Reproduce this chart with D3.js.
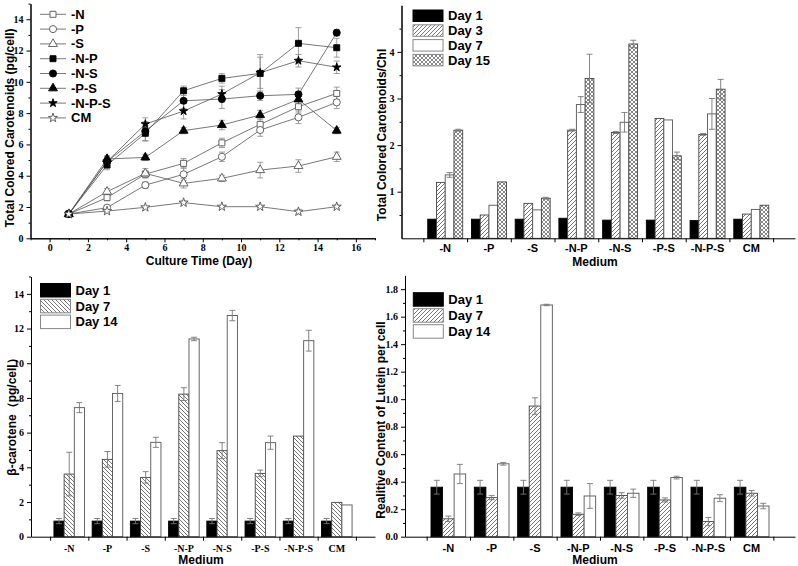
<!DOCTYPE html>
<html>
<head>
<meta charset="utf-8">
<script src="https://d3js.org/d3.v7.min.js"></script>
<style>
  body { margin: 0; background: #fff; }
  .tick-lbl { font-family: "Liberation Serif", serif; font-weight: bold; font-size: 10px; fill: #000; }
  .title { font-family: "Liberation Sans", Arial, sans-serif; font-weight: bold; font-size: 12px; fill: #000; }
  .lgd { font-family: "Liberation Sans", Arial, sans-serif; font-weight: bold; font-size: 13px; fill: #000; }
  .cat { font-family: "Liberation Sans", Arial, sans-serif; font-weight: bold; font-size: 11px; fill: #000; }
</style>
</head>
<body>
<svg id="fig" width="798" height="566"></svg>
<script>
// ---- data: growth curve (top left) ----
const days = [1, 3, 5, 7, 9, 11, 13, 15];
const lineNames = ["-N", "-P", "-S", "-N-P", "-N-S", "-P-S", "-N-P-S", "CM"];
const valN   = [1.55, 2.60, 4.10, 4.79, 6.10, 7.28, 8.41, 9.26];
const valP   = [1.55, 1.96, 3.40, 4.09, 5.21, 6.92, 7.73, 8.69];
const valS   = [1.55, 2.98, 4.15, 3.51, 3.83, 4.36, 4.62, 5.21];
const valNP  = [1.55, 4.68, 6.71, 9.43, 10.22, 10.54, 12.46, 12.18];
const valNS  = [1.55, 4.90, 6.85, 8.79, 8.90, 9.11, 9.20, 13.14];
const valPS  = [1.55, 5.07, 5.17, 6.88, 7.24, 7.88, 8.88, 6.88];
const valNPS = [1.55, 4.90, 7.30, 8.13, 9.22, 10.58, 11.35, 10.93];
const valCM  = [1.55, 1.74, 1.98, 2.28, 2.02, 2.02, 1.70, 2.02];
const errN   = [0.1, 0.2, 0.2, 0.3, 0.3, 0.4, 0.4, 0.4];
const errP   = [0.1, 0.15, 0.2, 0.4, 0.3, 0.4, 0.4, 0.4];
const errS   = [0.1, 0.2, 0.3, 0.3, 0.2, 0.5, 0.4, 0.3];
const errNP  = [0.1, 0.3, 0.5, 0.3, 0.3, 1.2, 1.0, 0.6];
const errNS  = [0.1, 0.3, 0.6, 0.5, 0.6, 0.3, 0.4, 0.2];
const errPS  = [0.1, 0.2, 0.2, 0.2, 0.3, 0.3, 0.5, 0.2];
const errNPS = [0.1, 0.3, 0.4, 0.5, 0.5, 1.0, 0.4, 0.4];
const errCM  = [0.05, 0.1, 0.05, 0.1, 0.05, 0.05, 0.15, 0.1];

// ---- data: bar charts ----
const media = ["-N", "-P", "-S", "-N-P", "-N-S", "-P-S", "-N-P-S", "CM"];

// carotenoids / Chl (top right)
const chlDays = ["Day 1", "Day 3", "Day 7", "Day 15"];
const chlD1  = [0.41, 0.41, 0.41, 0.43, 0.39, 0.39, 0.38, 0.41];
const chlD3  = [1.20, 0.50, 0.75, 2.32, 2.27, 2.57, 2.23, 0.52];
const chlD7  = [1.36, 0.71, 0.61, 2.87, 2.49, 2.54, 2.67, 0.62];
const chlD15 = [2.32, 1.21, 0.86, 3.43, 4.17, 1.77, 3.20, 0.71];
const chlE1  = [0, 0, 0, 0, 0, 0, 0, 0];
const chlE3  = [0, 0, 0, 0.02, 0.02, 0, 0.02, 0];
const chlE7  = [0.05, 0, 0, 0.17, 0.21, 0, 0.33, 0];
const chlE15 = [0.02, 0, 0.02, 0.52, 0.08, 0.08, 0.21, 0];

// beta-carotene (bottom left)
const betaDays = ["Day 1", "Day 7", "Day 14"];
const betaD1  = [0.9, 0.9, 0.9, 0.9, 0.9, 0.9, 0.9, 0.9];
const betaD7  = [3.61, 4.46, 3.42, 8.22, 4.96, 3.65, 5.80, 1.98];
const betaD14 = [7.44, 8.26, 5.44, 11.40, 12.75, 5.42, 11.30, 1.83];
const betaE1  = [0.15, 0.15, 0.15, 0.15, 0.15, 0.15, 0.15, 0.15];
const betaE7  = [1.26, 0.45, 0.33, 0.37, 0.46, 0.19, 0, 0];
const betaE14 = [0.29, 0.46, 0.29, 0.1, 0.3, 0.38, 0.6, 0];

// lutein (bottom right)
const lutDays = ["Day 1", "Day 7", "Day 14"];
const lutD1  = [0.36, 0.36, 0.36, 0.36, 0.36, 0.36, 0.36, 0.36];
const lutD7  = [0.13, 0.284, 0.95, 0.163, 0.30, 0.267, 0.11, 0.316];
const lutD14 = [0.456, 0.53, 1.685, 0.296, 0.316, 0.43, 0.28, 0.223];
const lutE1  = [0.05, 0.05, 0.05, 0.05, 0.05, 0.05, 0.05, 0.05];
const lutE7  = [0.02, 0.015, 0.06, 0.01, 0.02, 0.015, 0.03, 0.02];
const lutE14 = [0.07, 0.01, 0.005, 0.09, 0.03, 0.01, 0.025, 0.02];

const svg = d3.select("#fig");
const defs = svg.append("defs");

// hatch patterns
function hatch(id, dir) {
  const p = defs.append("pattern").attr("id", id)
    .attr("patternUnits", "userSpaceOnUse").attr("width", 4).attr("height", 4);
  p.append("rect").attr("width", 4).attr("height", 4).attr("fill", "#fff");
  const paths = dir === "f" ? ["M0,4 L4,0", "M-1,1 L1,-1", "M3,5 L5,3"]
              : dir === "b" ? ["M0,0 L4,4", "M-1,3 L1,5", "M3,-1 L5,1"]
              : ["M0,4 L4,0", "M-1,1 L1,-1", "M3,5 L5,3", "M0,0 L4,4", "M-1,3 L1,5", "M3,-1 L5,1"];
  paths.forEach(d => p.append("path").attr("d", d).attr("stroke", "#555").attr("stroke-width", dir === "x" ? 0.7 : 0.8));
}
hatch("hf", "f");
hatch("hb", "b");
hatch("hx", "x");

const styles = {
  black: { fill: "#000", stroke: "#000" },
  fwd:   { fill: "url(#hf)", stroke: "#444" },
  back:  { fill: "url(#hb)", stroke: "#444" },
  white: { fill: "#fff", stroke: "#555" },
  cross: { fill: "url(#hx)", stroke: "#444" }
};

// ---------- panel 1: line chart ----------
(function () {
  const x = d3.scaleLinear().domain([-1, 17]).range([30.5, 375]);
  const y = d3.scaleLinear().domain([0, 15]).range([238.3, 3.6]);
  const g = svg.append("g");

  g.append("g").attr("transform", "translate(0,238.3)")
    .call(d3.axisBottom(x).tickValues(d3.range(0, 17, 2)).tickSize(4).tickSizeOuter(0).tickFormat(d3.format("d")))
    .call(a => a.selectAll("text").attr("class", "tick-lbl").attr("dy", "0.8em").attr("y", 5));
  g.append("g").attr("transform", "translate(0,238.3)")
    .call(d3.axisBottom(x).tickValues(d3.range(-1, 18, 2)).tickSize(2).tickSizeOuter(0).tickFormat(""));
  g.append("g").attr("transform", "translate(30.5,0)")
    .call(d3.axisLeft(y).tickValues(d3.range(0, 15, 2)).tickSize(4).tickSizeOuter(0))
    .call(a => a.selectAll("text").attr("class", "tick-lbl").attr("x", -7));
  g.append("g").attr("transform", "translate(30.5,0)")
    .call(d3.axisLeft(y).tickValues(d3.range(1, 16, 2)).tickSize(2).tickSizeOuter(0).tickFormat(""));
  g.selectAll(".domain, .tick line").attr("stroke", "#000");

  g.append("text").attr("class", "title").attr("x", 199).attr("y", 265).attr("text-anchor", "middle")
    .attr("font-size", 11).text("Culture Time (Day)");
  g.append("text").attr("class", "title").attr("transform", "translate(14,128) rotate(-90)")
    .attr("text-anchor", "middle").text("Total Colored Carotenoids (pg/cell)");

  const vals = [valN, valP, valS, valNP, valNS, valPS, valNPS, valCM];
  const errs = [errN, errP, errS, errNP, errNS, errPS, errNPS, errCM];
  const shapes = [d3.symbolSquare, d3.symbolCircle, d3.symbolTriangle, d3.symbolSquare,
                  d3.symbolCircle, d3.symbolTriangle, d3.symbolStar, d3.symbolStar];
  const filled = [false, false, false, true, true, true, true, false];
  const sizes = [36, 40, 34, 36, 40, 34, 22, 26];
  const line = d3.line().x((d, i) => x(days[i])).y(d => y(d));

  vals.forEach(v => {
    g.append("path").attr("d", line(v)).attr("fill", "none").attr("stroke", "#555").attr("stroke-width", 0.8);
  });
  vals.forEach((v, k) => {
    const e = errs[k];
    v.forEach((d, i) => {
      const cx = x(days[i]);
      g.append("path")
        .attr("d", `M${cx},${y(d - e[i])}V${y(d + e[i])}M${cx - 3},${y(d - e[i])}H${cx + 3}M${cx - 3},${y(d + e[i])}H${cx + 3}`)
        .attr("stroke", "#888").attr("stroke-width", 0.8).attr("fill", "none");
    });
  });
  vals.forEach((v, k) => {
    g.selectAll(null).data(v).enter().append("path")
      .attr("d", d3.symbol().type(shapes[k]).size(sizes[k]))
      .attr("transform", (d, i) => `translate(${x(days[i])},${y(d)})`)
      .attr("fill", filled[k] ? "#000" : "#fff")
      .attr("stroke", filled[k] ? "#000" : "#555").attr("stroke-width", 0.9);
  });

  // legend
  lineNames.forEach((n, k) => {
    const ly = 14.3 + k * 14.8;
    g.append("line").attr("x1", 40).attr("x2", 66).attr("y1", ly).attr("y2", ly).attr("stroke", "#555").attr("stroke-width", 0.8);
    g.append("path").attr("d", d3.symbol().type(shapes[k]).size(sizes[k]))
      .attr("transform", `translate(53,${ly})`)
      .attr("fill", filled[k] ? "#000" : "#fff").attr("stroke", filled[k] ? "#000" : "#555").attr("stroke-width", 0.9);
    g.append("text").attr("class", "lgd").attr("font-size", 12).attr("x", 71).attr("y", ly + 4.5).text(n);
  });
})();

// ---------- bar chart helper ----------
function barChart(cfg) {
  const x = d3.scaleLinear().domain([0, 9]).range(cfg.xr);
  const y = d3.scaleLinear().domain(cfg.yd).range(cfg.yr);
  const g = svg.append("g");
  const unit = x(1) - x(0);
  const n = cfg.series.length;
  const bw = 0.8 / n;

  cfg.series.forEach((s, k) => {
    const off = -0.4 + k * bw;
    s.values.forEach((v, i) => {
      g.append("rect").attr("x", x(i + 1 + off)).attr("y", y(v)).attr("width", bw * unit).attr("height", y(0) - y(v))
        .attr("fill", styles[s.style].fill).attr("stroke", styles[s.style].stroke).attr("stroke-width", 0.9);
    });
  });
  cfg.series.forEach((s, k) => {
    const off = -0.4 + k * bw + bw / 2;
    s.values.forEach((v, i) => {
      const e = s.err[i];
      if (!e) return;
      const cx = x(i + 1 + off);
      g.append("path")
        .attr("d", `M${cx},${y(v - e)}V${y(v + e)}M${cx - 3},${y(v - e)}H${cx + 3}M${cx - 3},${y(v + e)}H${cx + 3}`)
        .attr("stroke", "#777").attr("stroke-width", 0.9).attr("fill", "none");
    });
  });

  const base = cfg.yr[0];
  g.append("g").attr("transform", `translate(0,${base})`)
    .call(d3.axisBottom(x).tickValues(d3.range(0.5, 9, 1)).tickSize(4).tickSizeOuter(0).tickFormat(""));
  g.selectAll(null).data(media).enter().append("text")
    .attr("class", cfg.catSerif ? "tick-lbl" : "cat").attr("font-size", 11)
    .attr("x", (d, i) => x(i + 1)).attr("y", base + cfg.catDy).attr("text-anchor", "middle").text(d => d);
  g.append("g").attr("transform", `translate(${cfg.xr[0]},0)`)
    .call(d3.axisLeft(y).tickValues(cfg.major).tickSize(4).tickSizeOuter(0).tickFormat(cfg.fmt))
    .call(a => a.selectAll("text").attr("class", "tick-lbl").attr("x", -7));
  g.append("g").attr("transform", `translate(${cfg.xr[0]},0)`)
    .call(d3.axisLeft(y).tickValues(cfg.minor).tickSize(2).tickSizeOuter(0).tickFormat(""));
  g.selectAll(".domain, .tick line").attr("stroke", "#000");

  g.append("text").attr("class", "title").attr("x", cfg.medX).attr("y", base + cfg.medDy)
    .attr("text-anchor", "middle").text("Medium");
  g.append("text").attr("class", "title").attr("font-size", cfg.ytSize || 12)
    .attr("transform", `translate(${cfg.ytX},${cfg.ytY}) rotate(-90)`)
    .attr("text-anchor", "middle").text(cfg.ytitle);

  cfg.series.forEach((s, k) => {
    const ly = cfg.lg.y + k * cfg.lg.step;
    g.append("rect").attr("x", cfg.lg.x).attr("y", ly).attr("width", 30).attr("height", cfg.lg.h)
      .attr("fill", styles[s.style].fill).attr("stroke", s.style === "black" ? "#000" : "#888").attr("stroke-width", 1);
    g.append("text").attr("class", "lgd").attr("x", cfg.lg.x + 35).attr("y", ly + cfg.lg.h / 2 + 4.5).text(s.name);
  });
}

// top right
barChart({
  xr: [401.5, 795], yd: [0, 5], yr: [238.3, 5.3],
  series: [
    { name: chlDays[0], values: chlD1, err: chlE1, style: "black" },
    { name: chlDays[1], values: chlD3, err: chlE3, style: "fwd" },
    { name: chlDays[2], values: chlD7, err: chlE7, style: "white" },
    { name: chlDays[3], values: chlD15, err: chlE15, style: "cross" }
  ],
  major: [1, 2, 3, 4], minor: [0.5, 1.5, 2.5, 3.5, 4.5], fmt: d3.format("d"),
  catDy: 14, medX: 595, medDy: 27.5, ytitle: "Total Colored Carotenoids/Chl", ytX: 386, ytY: 135, ytSize: 11,
  lg: { x: 413, y: 10, step: 14.8, h: 11.5 }
});

// bottom left
barChart({
  xr: [31, 375], yd: [0, 15], yr: [536.7, 276.5],
  series: [
    { name: betaDays[0], values: betaD1, err: betaE1, style: "black" },
    { name: betaDays[1], values: betaD7, err: betaE7, style: "back" },
    { name: betaDays[2], values: betaD14, err: betaE14, style: "white" }
  ],
  major: d3.range(0, 15, 2), minor: d3.range(1, 16, 2), fmt: d3.format("d"), catSerif: true,
  catDy: 15, medX: 201, medDy: 27, ytitle: "β-carotene（pg/cell）", ytX: 16, ytY: 414,
  lg: { x: 40.5, y: 283.5, step: 15.8, h: 13.5 }
});

// bottom right
barChart({
  xr: [405, 795], yd: [0, 1.9], yr: [536.7, 275.4],
  series: [
    { name: lutDays[0], values: lutD1, err: lutE1, style: "black" },
    { name: lutDays[1], values: lutD7, err: lutE7, style: "fwd" },
    { name: lutDays[2], values: lutD14, err: lutE14, style: "white" }
  ],
  major: d3.range(0, 1.81, 0.2), minor: d3.range(0.1, 1.9, 0.2), fmt: d3.format(".1f"),
  catDy: 15, medX: 595, medDy: 27, ytitle: "Realitive Content of Lutein per cell", ytX: 385, ytY: 420, ytSize: 11,
  lg: { x: 413.3, y: 292.7, step: 16, h: 13.5 }
});
</script>
</body>
</html>
